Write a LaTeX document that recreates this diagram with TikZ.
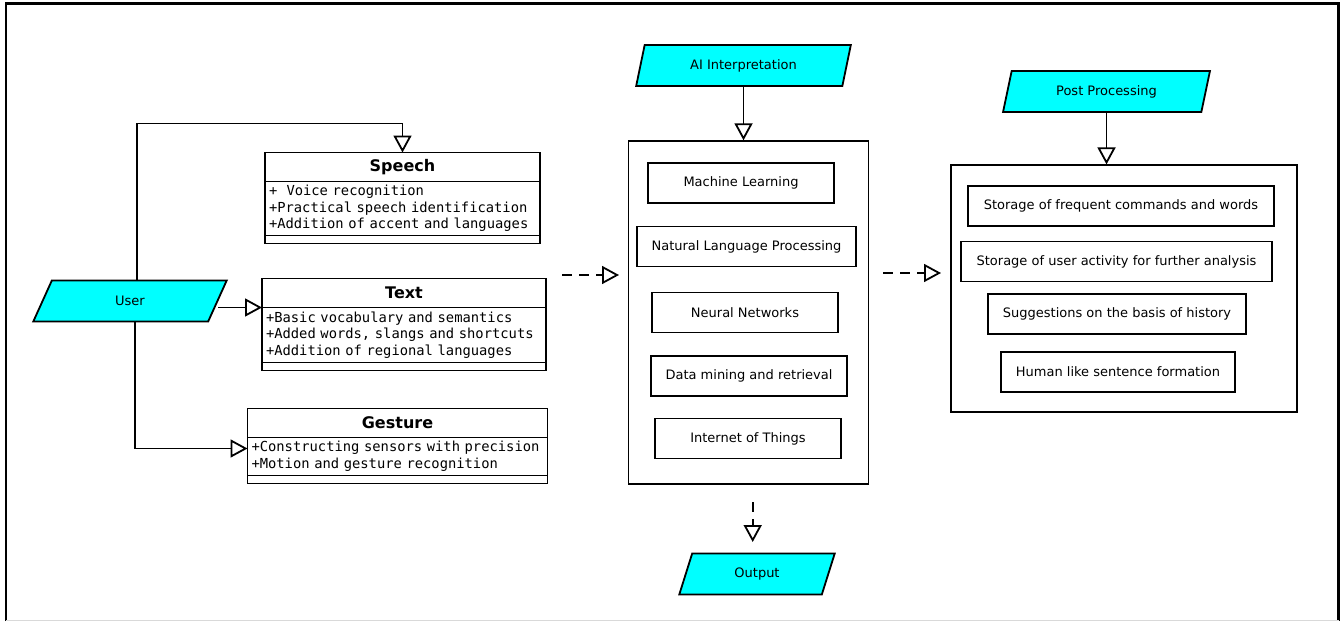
\documentclass[tikz,border=0pt]{standalone}
\usepackage{fontspec}
\setmainfont{DejaVu Sans}
\newfontfamily\umlmono[WordSpace={1.7,0,0}]{DejaVu Sans Mono}
\usetikzlibrary{positioning,shapes.geometric,arrows.meta}
\definecolor{iocyan}{RGB}{0,255,255}

\begin{document}
\begin{tikzpicture}[x=1pt, y=-1pt,
	io/.style = {draw, fill=iocyan, line width=1.8pt, trapezium, trapezium left angle=70, trapezium right angle=110, trapezium stretches=true, minimum height=41pt, inner sep=0pt, font=\fontsize{13}{15}\selectfont},
	umlhead/.style = {draw, line width=1.8pt, minimum height=29pt, inner sep=0pt, outer sep=0pt, font=\fontsize{16}{18}\selectfont\bfseries},
	umlbody/.style = {draw, line width=1.8pt, inner xsep=4pt, inner ysep=0pt, outer sep=0pt, align=left, font=\umlmono\fontsize{13.8}{16.6}\selectfont},
	umlfoot/.style = {draw, line width=1.8pt, minimum height=8pt, inner sep=0pt, outer sep=0pt},
	panel/.style = {draw, line width=1.8pt},
	item/.style = {draw, line width=1.8pt, minimum height=40pt, inner sep=0pt, font=\fontsize{13}{15}\selectfont},
	flow/.style = {line width=1.8pt, -{Triangle[open, length=17pt, width=18pt]}},
	dashflow/.style = {flow, dash pattern=on 10pt off 7pt}]
	\useasboundingbox (0,0) rectangle (1340,621);
	% Raami
	\draw[line width=2.5pt] (6,621) -- (6,3.5) -- (1338.5,3.5) -- (1338.5,621);
	\draw[black!15] (6,620) -- (1338.5,620);
	% Syotteet
	\node[io, minimum width=194pt] (user) at (130,301) {User};
	\node[io, minimum width=215pt] (ai) at (743.5,65.5) {AI Interpretation};
	\node[io, minimum width=207pt] (post) at (1106.5,91.5) {Post Processing};
	\node[io, minimum width=156pt] (output) at (757,574) {Output};
	% Luokat
	\node[umlhead, minimum width=275pt] (speech) at (402.5,167) {Speech};
	\node[umlbody, text width=267pt, minimum height=54pt, below=0pt of speech] (speechbody) {\mbox{+\ \ Voice recognition}\\ \mbox{+Practical speech identification}\\ \mbox{+Addition of accent and languages}};
	\node[umlfoot, minimum width=275pt, below=0pt of speechbody] (speechfoot) {};
	\node[umlhead, minimum width=284pt] (txt) at (404,293) {Text};
	\node[umlbody, text width=276pt, minimum height=55pt, below=0pt of txt] (txtbody) {\mbox{+Basic vocabulary and semantics}\\ \mbox{+Added words, slangs and shortcuts}\\ \mbox{+Addition of regional languages}};
	\node[umlfoot, minimum width=284pt, below=0pt of txtbody] (txtfoot) {};
	\node[umlhead, minimum width=300pt] (gesture) at (397.5,423) {Gesture};
	\node[umlbody, text width=292pt, minimum height=38pt, below=0pt of gesture] (gesturebody) {\mbox{+Constructing sensors with precision}\\ \mbox{+Motion and gesture recognition}};
	\node[umlfoot, minimum width=300pt, below=0pt of gesturebody] (gesturefoot) {};
	% Tulkinta
	\node[panel, minimum width=240pt, minimum height=343pt] (aibox) at (748.5,312.7) {};
	\node[item, minimum width=186pt] (ml) at (741,183) {Machine Learning};
	\node[item, minimum width=219pt] (nlp) at (746.5,246.5) {Natural Language Processing};
	\node[item, minimum width=186pt] (nn) at (745,312.5) {Neural Networks};
	\node[item, minimum width=196pt] (dm) at (749,375.7) {Data mining and retrieval};
	\node[item, minimum width=186pt] (iot) at (748,438.5) {Internet of Things};
	% Jalkikasittely
	\node[panel, minimum width=346pt, minimum height=247pt] (postbox) at (1124,288.8) {};
	\node[item, minimum width=306pt] (freq) at (1121,206) {Storage of frequent commands and words};
	\node[item, minimum width=311pt] (act) at (1116.5,261.5) {Storage of user activity for further analysis};
	\node[item, minimum width=258pt] (hist) at (1117,314) {Suggestions on the basis of history};
	\node[item, minimum width=234pt] (human) at (1118,372) {Human like sentence formation};
	% Vapaat paat
	\coordinate (umlout) at (562,275);
	\coordinate (aiin) at (619,275);
	\coordinate (aiout) at (883,273);
	\coordinate (postin) at (941,273);
	\coordinate (outfrom) at (752.7,502);
	\coordinate (outin) at (752.7,542);
	% Nuolet
	\draw[flow] ([xshift=7pt]user.north) -- ++(0,-156) -| (speech.north);	% user-speech
	\draw[flow] (user.east |- txt.south west) -- (txt.south west);			% user-text
	\draw[flow] ([xshift=5pt]user.south) |- ([yshift=-11pt]gesture.south west);	% user-gesture
	\draw[dashflow] (umlout) -- (aiin);						% uml-ai
	\draw[flow] (ai.south) -- (ai.south |- aibox.north);		% ai
	\draw[dashflow] (aiout) -- (postin);						% ai-post
	\draw[flow] (post.south) -- (post.south |- postbox.north);	% post
	\draw[dashflow] (outfrom) -- (outin);						% ai-output
\end{tikzpicture}
\end{document}
